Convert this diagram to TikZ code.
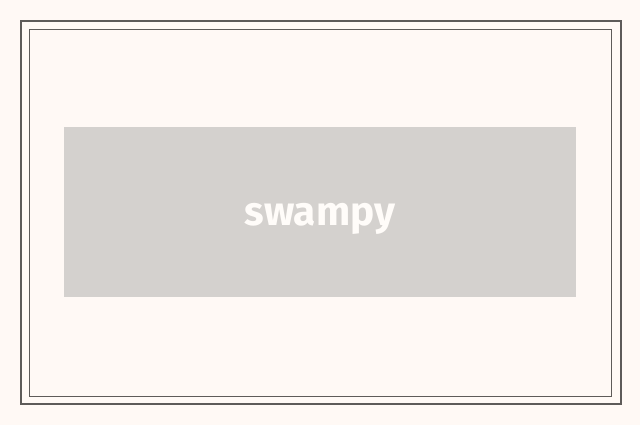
\documentclass[tikz,border=0pt]{standalone}
\usepackage{fontspec}
\setmainfont{Fira Sans}
\definecolor{paper}{HTML}{FFF9F5}
\definecolor{banner}{HTML}{D4D1CE}
\definecolor{frame}{HTML}{5E5B59}
\definecolor{label}{HTML}{FFFCF9}
\begin{document}
\begin{tikzpicture}[x=1pt,y=-1pt]

\fill[paper] (0,0) rectangle (640,425);
\useasboundingbox (0,0) rectangle (640,425);

\draw[frame, line width=2pt] (21,21) rectangle (621,404);
\draw[frame, line width=1pt] (29.5,29.5) rectangle (611.5,396.5);

\begin{scope}[every node/.style={inner sep=0pt}]
\node(box) at(320,212) [fill=banner, minimum width=512pt, minimum height=170pt] {};
\node(name) at(320,225) [anchor=base, text=label, font=\fontsize{40.5}{40.5}\selectfont\bfseries] {swampy};
\end{scope}

\end{tikzpicture}
\end{document}
